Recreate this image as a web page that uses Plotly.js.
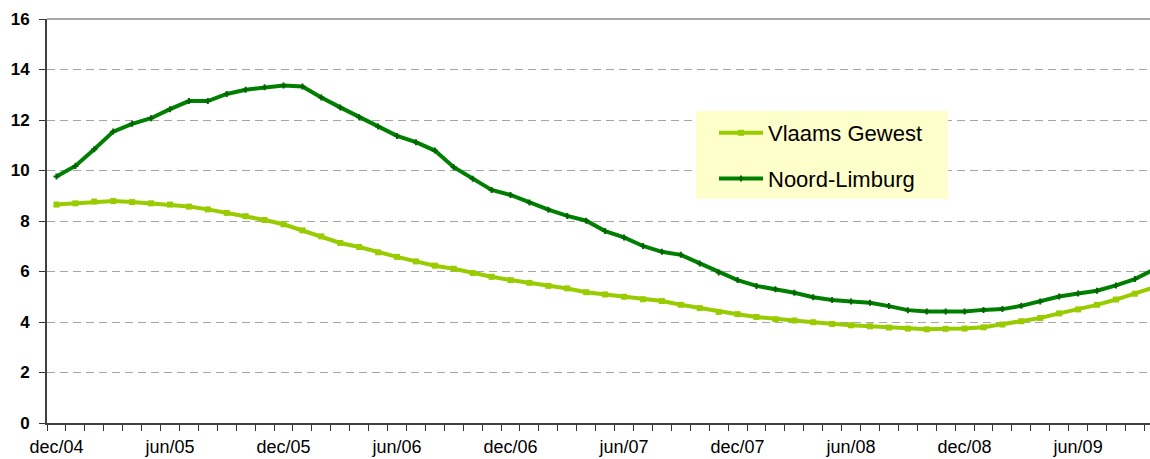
<!DOCTYPE html>
<html>
<head>
<meta charset="utf-8">
<script src="https://cdn.plot.ly/plotly-3.0.1.min.js"></script>
<style>html,body{margin:0;padding:0;background:#fff;overflow:hidden}</style>
</head>
<body>
<div id="chart" style="width:1150px;height:459px"></div>
<script>
// Month labels (Dutch), dec/04 .. okt/09
const monthNames = ["jan","feb","mrt","apr","mei","jun","jul","aug","sep","okt","nov","dec"];
const months = [];
for (let k = 0; k < 59; k++) {
  const m = (11 + k) % 12;
  const y = 4 + Math.floor((11 + k) / 12);
  months.push(monthNames[m] + "/" + String(y).padStart(2, "0"));
}
const tickLabels = months.map((m, i) => (i % 6 === 0 ? m : ""));

const vlaamsGewest = [
  8.65, 8.70, 8.77, 8.79, 8.75, 8.70, 8.65, 8.57, 8.46, 8.32, 8.19, 8.04, 7.87, 7.63,
  7.39, 7.13, 6.97, 6.76, 6.58, 6.40, 6.23,
  6.11, 5.94, 5.79, 5.66, 5.55, 5.43, 5.33,
  5.18, 5.09, 5.00, 4.90, 4.83, 4.68, 4.55,
  4.40, 4.31, 4.20, 4.11, 4.06, 3.99, 3.92,
  3.87, 3.83, 3.78, 3.74, 3.71, 3.73, 3.74,
  3.79, 3.90, 4.03, 4.16, 4.34, 4.50, 4.68,
  4.89, 5.12, 5.37
];
const noordLimburg = [
  9.76, 10.18, 10.84, 11.54, 11.85, 12.07, 12.43, 12.75, 12.75, 13.03, 13.20, 13.30, 13.37, 13.33,
  12.89, 12.50, 12.11, 11.74, 11.37, 11.12, 10.79,
  10.13, 9.67, 9.23, 9.03, 8.73, 8.45, 8.20,
  8.01, 7.60, 7.35, 7.01, 6.78, 6.66, 6.32,
  5.96, 5.66, 5.43, 5.30, 5.16, 4.98, 4.87,
  4.81, 4.76, 4.63, 4.47, 4.42, 4.42, 4.42,
  4.48, 4.51, 4.64, 4.81, 5.01, 5.13, 5.24,
  5.45, 5.70, 6.08
];

const FONT = "Liberation Sans, Arial, sans-serif";

const traces = [
  {
    x: months, y: vlaamsGewest, name: "Vlaams Gewest", type: "scatter", mode: "lines+markers",
    legendgroup: "a",
    line: {color: "#99CC00", width: 4},
    marker: {symbol: "square", size: 6, color: "#99CC00"}
  },
  {
    x: months, y: noordLimburg, name: "Noord-Limburg", type: "scatter", mode: "lines+markers",
    legendgroup: "b",
    line: {color: "#008000", width: 4},
    marker: {symbol: "cross", size: 5, color: "#006400"}
  }
];

// plot area in pixels: x 47..1150, y 19..423
const px = v => (v - 47) / 1103;
const py = v => (423 - v) / 404;

const layout = {
  width: 1150, height: 459,
  margin: {l: 47, r: 0, t: 19, b: 36, pad: 0},
  paper_bgcolor: "#ffffff", plot_bgcolor: "#ffffff",
  showlegend: true,
  legend: {
    x: px(714), y: py(112), xanchor: "left", yanchor: "top",
    bgcolor: "rgba(0,0,0,0)", borderwidth: 0,
    font: {family: FONT, size: 22, color: "#000"},
    traceorder: "grouped", tracegroupgap: 14,
    itemwidth: 44
  },
  xaxis: {
    type: "category",
    range: [-0.5, 57.8],
    tickmode: "array", tickvals: months, ticktext: tickLabels,
    tickson: "boundaries",
    ticks: "outside", ticklen: 6, tickcolor: "#333", tickwidth: 1,
    showline: true, linecolor: "#404040", linewidth: 2,
    showgrid: false, zeroline: false,
    tickangle: 0,
    tickfont: {family: FONT, size: 18, color: "#000"},
    ticklabelstandoff: 6,
    fixedrange: true
  },
  yaxis: {
    range: [0, 16], tickmode: "linear", tick0: 0, dtick: 2,
    ticks: "outside", ticklen: 6, tickcolor: "#333", tickwidth: 1,
    showline: true, linecolor: "#404040", linewidth: 2,
    showgrid: true, gridcolor: "#a6a6a6", gridwidth: 1, griddash: "8px,5px",
    zeroline: false,
    tickfont: {family: FONT, size: 17, color: "#000", weight: "bold"},
    ticklabelstandoff: 6,
    fixedrange: true
  },
  shapes: [
    {type: "line", xref: "paper", yref: "paper", x0: 0, x1: 1, y0: 1, y1: 1,
     line: {color: "#8c8c8c", width: 1.5}},
    {type: "rect", xref: "paper", yref: "paper", layer: "above",
     x0: px(696), x1: px(948), y0: py(199), y1: py(111),
     fillcolor: "#FFFFCC", line: {width: 0}}
  ]
};

Plotly.newPlot("chart", traces, layout, {staticPlot: true, displayModeBar: false});
</script>
</body>
</html>
